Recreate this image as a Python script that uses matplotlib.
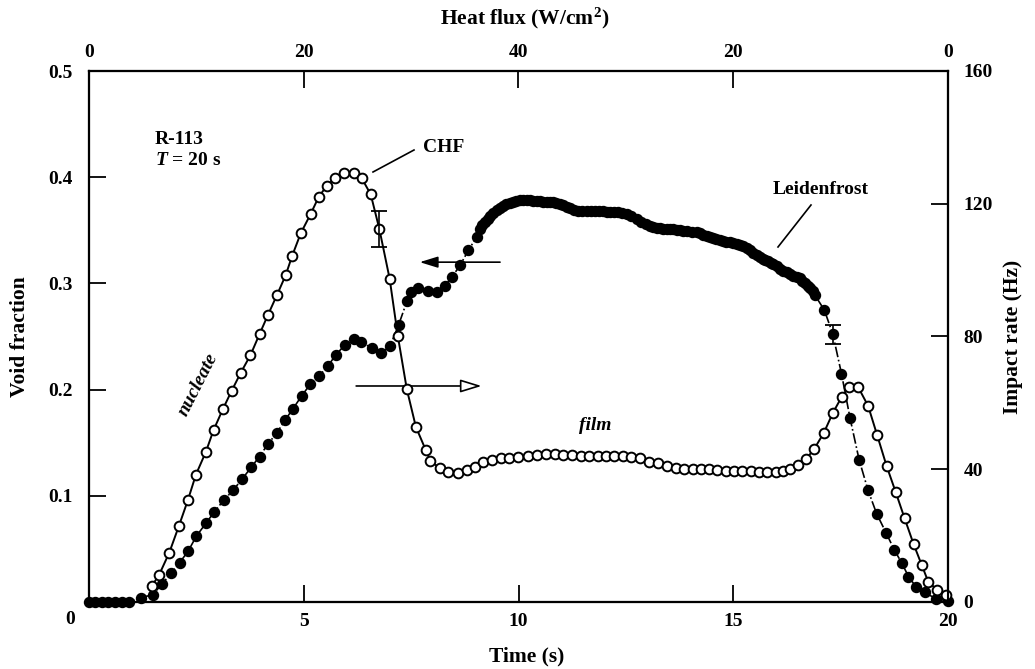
import matplotlib
matplotlib.use('Agg')
import matplotlib.pyplot as plt

plt.rcParams['font.family'] = ['Liberation Serif', 'DejaVu Serif']
plt.rcParams['mathtext.fontset'] = 'custom'
plt.rcParams['mathtext.rm'] = 'Liberation Serif:bold'
plt.rcParams['mathtext.it'] = 'Liberation Serif:italic:bold'
plt.rcParams['mathtext.bf'] = 'Liberation Serif:bold'

# ---------------- data ----------------
# Impact rate (open circles, right axis)
impact_time = [1.46, 1.63, 1.87, 2.09, 2.30, 2.49, 2.72, 2.90, 3.12, 3.32,
               3.53, 3.76, 3.97, 4.17, 4.38, 4.58, 4.73, 4.93, 5.16, 5.35,
               5.53, 5.73, 5.94, 6.17, 6.35, 6.56, 6.76, 7.00, 7.19, 7.40,
               7.61, 7.84, 7.95, 8.17, 8.37, 8.58, 8.79, 8.99, 9.18, 9.39,
               9.59, 9.78, 10.00, 10.21, 10.42, 10.63, 10.85, 11.04, 11.25, 11.45,
               11.65, 11.84, 12.04, 12.23, 12.43, 12.62, 12.83, 13.05, 13.25, 13.46,
               13.67, 13.85, 14.06, 14.24, 14.44, 14.63, 14.82, 15.02, 15.21, 15.41,
               15.60, 15.79, 15.99, 16.15, 16.32, 16.51, 16.69, 16.88, 17.11, 17.32,
               17.53, 17.70, 17.91, 18.14, 18.35, 18.57, 18.78, 18.99, 19.20, 19.39,
               19.54, 19.75, 19.95]
impact_rate = [4.8, 8.1, 14.9, 22.8, 30.6, 38.4, 45.2, 51.8, 58.2, 63.6,
               69.0, 74.4, 80.7, 86.6, 92.6, 98.5, 104.3, 111.1, 116.9, 122.1,
               125.3, 127.8, 129.4, 129.4, 127.7, 122.8, 112.4, 97.4, 80.2, 64.1,
               52.8, 45.8, 42.5, 40.3, 39.2, 38.8, 39.8, 40.8, 42.1, 42.8,
               43.3, 43.5, 43.7, 44.0, 44.4, 44.6, 44.5, 44.3, 44.2, 44.1,
               44.1, 44.1, 44.1, 44.1, 44.0, 43.8, 43.3, 42.3, 41.8, 41.0,
               40.3, 40.0, 40.0, 40.2, 40.0, 39.8, 39.6, 39.6, 39.5, 39.4,
               39.3, 39.3, 39.3, 39.6, 40.0, 41.3, 43.0, 46.0, 51.0, 57.0,
               61.9, 64.7, 64.7, 59.1, 50.3, 41.0, 33.2, 25.2, 17.4, 11.1,
               6.1, 3.6, 2.1]

# Void fraction (filled circles, left axis)
void_time = [0.0, 0.14, 0.30, 0.45, 0.61, 0.76, 0.94, 1.21, 1.49, 1.70,
             1.91, 2.11, 2.31, 2.50, 2.72, 2.92, 3.14, 3.35, 3.57, 3.78,
             3.97, 4.17, 4.37, 4.56, 4.75, 4.95, 5.15, 5.36, 5.56, 5.75,
             5.96, 6.17, 6.34, 6.58, 6.79, 7.01, 7.21, 7.40, 7.50, 7.67,
             7.89, 8.10, 8.29, 8.45, 8.64, 8.83,
             9.03, 9.10, 9.16, 9.22, 9.28, 9.34, 9.41, 9.49, 9.57, 9.65,
             9.72, 9.80, 9.87, 9.94, 10.03, 10.11, 10.20, 10.27, 10.34, 10.42,
             10.50, 10.58, 10.66, 10.73, 10.80, 10.88, 10.97, 11.04, 11.12, 11.20,
             11.29, 11.39, 11.49, 11.59, 11.68, 11.78, 11.87, 11.97, 12.05, 12.13,
             12.22, 12.32, 12.42, 12.52, 12.63, 12.75, 12.86, 12.98, 13.06, 13.14,
             13.22, 13.29, 13.37, 13.45, 13.52, 13.60, 13.68, 13.76, 13.84, 13.92,
             14.03, 14.15, 14.22, 14.30, 14.38, 14.46, 14.54, 14.61, 14.69, 14.76,
             14.84, 14.92, 15.00, 15.08, 15.16, 15.23, 15.31, 15.39, 15.47, 15.55,
             15.62, 15.69, 15.75, 15.81, 15.87, 15.93, 16.01, 16.09, 16.16, 16.24,
             16.32, 16.40, 16.48, 16.55, 16.61, 16.67, 16.73, 16.79, 16.85, 16.90,
             17.12, 17.32, 17.52, 17.72, 17.93, 18.14, 18.34, 18.56, 18.75, 18.92,
             19.08, 19.26, 19.46, 19.72, 20.0]
void_frac = [0.0, 0.0, 0.0, 0.0, 0.0, 0.0, 0.0, 0.004, 0.007, 0.017,
             0.027, 0.037, 0.048, 0.062, 0.074, 0.085, 0.096, 0.105, 0.116, 0.127,
             0.137, 0.149, 0.159, 0.171, 0.182, 0.194, 0.205, 0.213, 0.222, 0.233,
             0.242, 0.248, 0.245, 0.239, 0.234, 0.241, 0.261, 0.283, 0.292, 0.296,
             0.293, 0.292, 0.298, 0.306, 0.317, 0.331,
             0.344, 0.351, 0.355, 0.358, 0.361, 0.363, 0.366, 0.369, 0.371, 0.373,
             0.375, 0.376, 0.377, 0.378, 0.379, 0.379, 0.379, 0.379, 0.378, 0.378,
             0.378, 0.377, 0.377, 0.377, 0.377, 0.376, 0.375, 0.374, 0.372, 0.371,
             0.369, 0.368, 0.368, 0.368, 0.368, 0.368, 0.368, 0.368, 0.367, 0.367,
             0.367, 0.367, 0.366, 0.365, 0.363, 0.361, 0.358, 0.356, 0.354, 0.353,
             0.352, 0.352, 0.351, 0.351, 0.351, 0.351, 0.350, 0.350, 0.349, 0.349,
             0.348, 0.348, 0.347, 0.346, 0.345, 0.344, 0.343, 0.342, 0.341, 0.340,
             0.339, 0.339, 0.338, 0.337, 0.336, 0.335, 0.333, 0.331, 0.329, 0.327,
             0.325, 0.323, 0.322, 0.321, 0.319, 0.318, 0.316, 0.314, 0.312, 0.311,
             0.309, 0.307, 0.306, 0.305, 0.302, 0.300, 0.298, 0.296, 0.293, 0.289,
             0.275, 0.252, 0.215, 0.173, 0.134, 0.105, 0.083, 0.065, 0.049, 0.037,
             0.024, 0.014, 0.009, 0.003, 0.001]

# Representative error bars
impact_err_time = [6.76]
impact_err_value = [112.4]
impact_err_size = [5.3]
void_err_time = [17.32]
void_err_value = [0.252]
void_err_size = [0.0086]

# Axis ticks
time_ticks = [0, 5, 10, 15, 20]
time_tick_labels = ['', '5', '10', '15', '20']
heat_flux_labels = ['0', '20', '40', '20', '0']
void_ticks = [0.1, 0.2, 0.3, 0.4, 0.5]
void_tick_labels = ['0.1', '0.2', '0.3', '0.4', '0.5']
rate_ticks = [0, 40, 80, 120, 160]
rate_tick_labels = ['0', '40', '80', '120', '160']

# ---------------- figure ----------------
W, H = 1035, 669
fig = plt.figure(figsize=(W / 100, H / 100), dpi=100)
fig.patch.set_facecolor('white')


def fx(px):
    return px / W


def fy(py):
    return 1 - py / H


L, R, T, B = 89, 948, 71, 602
ax = fig.add_axes([fx(L), fy(B), (R - L) / W, (B - T) / H])
ax.set_xlim(0, 20)
ax.set_ylim(0, 0.5)
ax2 = ax.twinx()
ax2.set_ylim(0, 160)
ax3 = ax.twiny()
ax3.set_xlim(0, 20)

FS = 14
tick_font = dict(fontsize=FS, fontweight='bold')

for a in (ax, ax2, ax3):
    for s in a.spines.values():
        s.set_linewidth(1.5)

ax.set_xticks(time_ticks)
ax.set_xticklabels(time_tick_labels, **tick_font)
ax.set_yticks(void_ticks)
ax.set_yticklabels(void_tick_labels, **tick_font)
ax.tick_params(axis='both', direction='in', length=12, width=1.3, pad=8,
               top=False, right=False)
ax.tick_params(axis='y', pad=12)

ax2.set_yticks(rate_ticks)
ax2.set_yticklabels(rate_tick_labels, **tick_font)
ax2.tick_params(axis='y', direction='in', length=12, width=1.3, pad=11)

ax3.set_xticks(time_ticks)
ax3.set_xticklabels(heat_flux_labels, **tick_font)
ax3.tick_params(axis='x', direction='in', length=12, width=1.3, pad=7)

# filled circles: void fraction
ax.plot(void_time, void_frac, linestyle='-.', color='black', lw=1.2,
        marker='o', markersize=7.2, markerfacecolor='black',
        markeredgecolor='black', clip_on=False, zorder=3)
ax.errorbar(void_err_time, void_err_value, yerr=void_err_size, fmt='none',
            ecolor='black', elinewidth=1.2, capsize=6, capthick=1.3, zorder=3)

# open circles: impact rate
ax2.plot(impact_time, impact_rate, linestyle='-', color='black', lw=1.4,
         marker='o', markersize=7.0, markerfacecolor='white',
         markeredgecolor='black', markeredgewidth=1.4, clip_on=False, zorder=4)
ax2.errorbar(impact_err_time, impact_err_value, yerr=impact_err_size, fmt='none',
             ecolor='black', elinewidth=1.2, capsize=6, capthick=1.3, zorder=4)

# arrows indicating axes
ax.annotate('', xy=(7.70, 0.320), xytext=(9.57, 0.320),
            arrowprops=dict(arrowstyle='-|>,head_length=0.55,head_width=0.17',
                            mutation_scale=20, color='black', lw=1.2,
                            shrinkA=0, shrinkB=0), zorder=5)
ax.annotate('', xy=(9.14, 0.2034), xytext=(6.22, 0.2034),
            arrowprops=dict(arrowstyle='-|>,head_length=0.65,head_width=0.2',
                            mutation_scale=20, fc='white', ec='black', lw=1.2,
                            shrinkA=0, shrinkB=0), zorder=5)

# annotations
fig.text(fx(155), fy(140), 'R-113', fontsize=FS, fontweight='bold',
         ha='left', va='center')
fig.text(fx(155), fy(161), r'$\mathit{T}$ = 20 s', fontsize=FS, fontweight='bold',
         ha='left', va='center')
fig.text(fx(423), fy(147), 'CHF', fontsize=FS, fontweight='bold',
         ha='left', va='center')
fig.add_artist(plt.Line2D([fx(373), fx(414)], [fy(172), fy(150)],
                          color='black', lw=1.2))
fig.text(fx(773), fy(190), 'Leidenfrost', fontsize=FS, fontweight='bold',
         ha='left', va='center')
fig.add_artist(plt.Line2D([fx(778), fx(811)], [fy(247), fy(205)],
                          color='black', lw=1.2))
fig.text(fx(198), fy(385), 'nucleate', fontsize=FS, fontstyle='italic',
         fontweight='bold', rotation=63, ha='center', va='center')
fig.text(fx(595), fy(425), 'film', fontsize=FS, fontstyle='italic',
         fontweight='bold', ha='center', va='center')
fig.text(fx(70), fy(619), '0', fontsize=FS, fontweight='bold',
         ha='center', va='center')

# axis labels
fig.text(fx(525), fy(18), r'Heat flux (W/cm$^2$)', fontsize=15.5,
         fontweight='bold', ha='center', va='center')
fig.text(fx(527), fy(656), 'Time (s)', fontsize=15.5, fontweight='bold',
         ha='center', va='center')
fig.text(fx(20), fy(337), 'Void fraction', fontsize=15.5, fontweight='bold',
         rotation=90, ha='center', va='center')
fig.text(fx(1013), fy(337), 'Impact rate (Hz)', fontsize=15.5, fontweight='bold',
         rotation=90, ha='center', va='center')

fig.savefig('out.png', dpi=100, facecolor='white')
